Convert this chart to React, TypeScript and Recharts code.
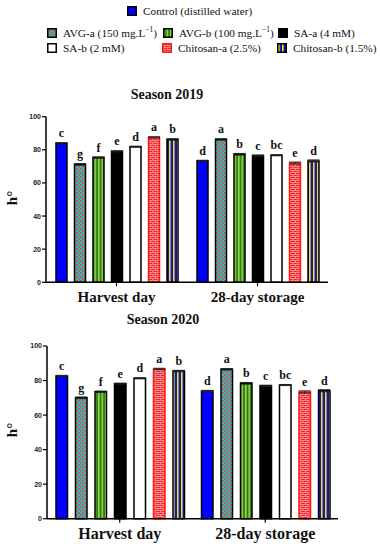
import { BarChart, Bar, XAxis, YAxis, LabelList, ErrorBar } from "recharts";

const categories = ["Harvest day", "28-day storage"];

const keys = ["control", "avgA", "avgB", "saA", "saB", "chitA", "chitB"];

// season 2019
const harvest2019 = [83.9, 71.2, 75.3, 79.1, 81.9, 87.5, 86.3];
const storage2019 = [73.4, 86.3, 77.3, 76.5, 76.7, 72, 73.3];
// season 2020
const harvest2020 = [82.6, 70, 73.5, 78.2, 81.3, 86.7, 85.5];
const storage2020 = [74, 86.5, 78.4, 77, 77.4, 73.4, 74.1];

const harvestErr = [0.4, 0.5, 0.4, 0.3, 0.3, 0.4, 0.4];
const storageErr = [0.3, 0.4, 0.5, 0.3, 0.3, 0.6, 0.6];

const harvestLetters = ["c", "g", "f", "e", "d", "a", "b"];
const storageLetters = ["d", "a", "b", "c", "bc", "e", "d"];

const yTicks = [0, 20, 40, 60, 80, 100];

const fills = [
  "#0000ff",
  "url(#pAvgA)",
  "url(#pAvgB)",
  "#000000",
  "#ffffff",
  "url(#pChitA)",
  "url(#pChitB)",
];
const strokes = ["#000", "#000", "#000", "#000", "#000", "#ff1a1a", "#000"];

function buildRows(harvest: number[], storage: number[]) {
  const cols = [
    { vals: harvest, err: harvestErr, letters: harvestLetters },
    { vals: storage, err: storageErr, letters: storageLetters },
  ];
  return categories.map((name, ci) => {
    const row: any = { name };
    keys.forEach((k, i) => {
      row[k] = cols[ci].vals[i];
      row[k + "Err"] = cols[ci].err[i];
      row[k + "L"] = cols[ci].letters[i];
    });
    return row;
  });
}

const serif = "'Liberation Serif', 'Times New Roman', serif";

function Patterns() {
  return (
    <svg width={0} height={0} style={{ position: "absolute" }}>
      <defs>
        <pattern id="pAvgA" width={4} height={4} patternUnits="userSpaceOnUse">
          <rect width={4} height={4} fill="#35b8b8" />
          <rect width={1.6} height={1.6} fill="#f03a3a" />
          <rect x={2} y={2} width={1.6} height={1.6} fill="#f03a3a" />
        </pattern>
        <pattern id="pAvgB" width={3.5} height={4} patternUnits="userSpaceOnUse">
          <rect width={3.5} height={4} fill="#2f7f0a" />
          <rect x={0} width={1.5} height={4} fill="#9ad85a" />
        </pattern>
        <pattern id="pChitA" width={5} height={4} patternUnits="userSpaceOnUse">
          <rect width={5} height={4} fill="#f42424" />
          <rect y={0} width={5} height={0.8} fill="#f9a0a0" />
          <rect y={2} width={5} height={0.8} fill="#f9a0a0" />
          <rect x={0} y={0} width={0.8} height={2} fill="#f9a0a0" />
          <rect x={2.5} y={2} width={0.8} height={2} fill="#f9a0a0" />
        </pattern>
        <pattern id="pChitB" width={4} height={4} patternUnits="userSpaceOnUse">
          <rect width={4} height={4} fill="#1414c8" />
          <rect x={1} width={1.6} height={4} fill="#f5e400" />
        </pattern>
      </defs>
    </svg>
  );
}

function SeasonChart(props: {
  rows: any[];
  top: number;
  height: number;
  mTop: number;
  mLeft: number;
  mRight: number;
  xHeight: number;
  barSize: number;
  barGap: number;
  labelSize: number;
}) {
  return (
    <div style={{ position: "absolute", left: 0, top: props.top }}>
      <BarChart
        width={380}
        height={props.height}
        data={props.rows}
        margin={{ top: props.mTop, right: props.mRight, bottom: 0, left: props.mLeft }}
        barSize={props.barSize}
        barGap={props.barGap}
      >
        <XAxis
          dataKey="name"
          axisLine={{ stroke: "#000", strokeWidth: 1.5 }}
          tickLine={{ stroke: "#000", strokeWidth: 1.2 }}
          tickSize={4}
          tickMargin={5}
          height={props.xHeight}
          interval={0}
          tick={{
            fill: "#111",
            fontSize: props.labelSize,
            fontFamily: serif,
            fontWeight: 700,
          }}
        />
        <YAxis
          domain={[0, 100]}
          ticks={yTicks}
          width={30}
          axisLine={{ stroke: "#000", strokeWidth: 1.5 }}
          tickLine={{ stroke: "#000", strokeWidth: 1.2 }}
          tickSize={4}
          tickMargin={1}
          tick={{
            fill: "#222",
            fontSize: 7,
            fontFamily: "'Liberation Sans', Arial, sans-serif",
            fontWeight: 700,
          }}
        />
        {keys.map((k, i) => (
          <Bar
            key={k}
            dataKey={k}
            fill={fills[i]}
            stroke={strokes[i]}
            strokeWidth={1.5}
            isAnimationActive={false}
          >
            <ErrorBar dataKey={k + "Err"} width={6} stroke="#222" strokeWidth={1} direction="y" />
            <LabelList
              dataKey={k + "L"}
              position="top"
              offset={6}
              fill="#111"
              fontSize={12}
              fontFamily={serif}
              fontWeight={700}
            />
          </Bar>
        ))}
      </BarChart>
    </div>
  );
}

const legendItems = [
  { fill: fills[0], stroke: "#000", x: 127, y: 11, text: "Control (distilled water)", sup: "" },
  { fill: fills[1], stroke: "#000", x: 47, y: 33, text: "AVG-a (150 mg.L", sup: "−1", end: ")" },
  { fill: fills[2], stroke: "#000", x: 163, y: 33, text: "AVG-b (100 mg.L", sup: "−1", end: ")" },
  { fill: fills[3], stroke: "#000", x: 278, y: 33, text: "SA-a (4 mM)", sup: "" },
  { fill: fills[4], stroke: "#000", x: 47, y: 48, text: "SA-b (2 mM)", sup: "" },
  { fill: fills[5], stroke: "#ff1a1a", x: 162, y: 48, text: "Chitosan-a (2.5%)", sup: "" },
  { fill: fills[6], stroke: "#000", x: 277, y: 48, text: "Chitosan-b (1.5%)", sup: "" },
];

export default function App() {
  const rows2019 = buildRows(harvest2019, storage2019);
  const rows2020 = buildRows(harvest2020, storage2020);
  const titleStyle: any = {
    position: "absolute",
    transform: "translate(-50%, -50%)",
    fontFamily: serif,
    fontWeight: 700,
    fontSize: 14,
    color: "#111",
    whiteSpace: "nowrap",
  };
  const hStyle: any = {
    position: "absolute",
    transform: "translate(-50%, -50%) rotate(-90deg)",
    fontFamily: serif,
    fontWeight: 700,
    fontSize: 15,
    color: "#111",
  };
  return (
    <div
      style={{
        position: "absolute",
        left: 0,
        top: 0,
        width: 380,
        height: 550,
        background: "#fff",
        overflow: "hidden",
      }}
    >
      <Patterns />
      {legendItems.map((it) => (
        <div
          key={it.text}
          style={{
            position: "absolute",
            left: it.x,
            top: it.y - 8,
            height: 16,
            display: "flex",
            alignItems: "center",
            fontFamily: serif,
            fontSize: 11.3,
            color: "#111",
            whiteSpace: "nowrap",
          }}
        >
          <svg width={10} height={10} style={{ marginRight: 6 }}>
            <rect x={0.75} y={0.75} width={8.5} height={8.5} fill={it.fill} stroke={it.stroke} strokeWidth={1.5} />
          </svg>
          <span>
            {it.text}
            {it.sup ? <sup style={{ fontSize: 7.5, lineHeight: 0 }}>{it.sup}</sup> : null}
            {it.end || ""}
          </span>
        </div>
      ))}

      <div style={{ ...titleStyle, left: 167, top: 95 }}>Season 2019</div>
      <div style={{ ...hStyle, left: 12, top: 198 }}>h°</div>
      <SeasonChart
        rows={rows2019}
        top={100}
        height={210}
        mTop={16.7}
        mLeft={16}
        mRight={52}
        xHeight={27.7}
        barSize={11}
        barGap={7.5}
        labelSize={15}
      />

      <div style={{ ...titleStyle, left: 163, top: 320 }}>Season 2020</div>
      <div style={{ ...hStyle, left: 12, top: 430 }}>h°</div>
      <SeasonChart
        rows={rows2020}
        top={330}
        height={215}
        mTop={16}
        mLeft={17}
        mRight={42}
        xHeight={26.3}
        barSize={11.5}
        barGap={8}
        labelSize={16}
      />
    </div>
  );
}
